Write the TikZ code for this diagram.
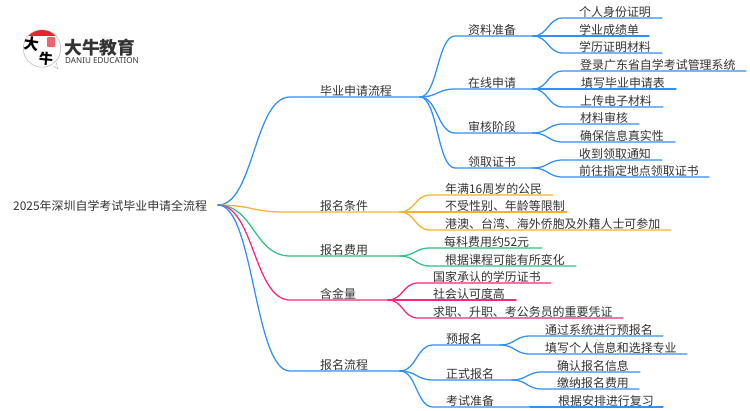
\documentclass[tikz,border=0pt]{standalone}
\usepackage{fontspec}
\setmainfont{Noto Sans CJK SC}
\newfontfamily\latinlogo{Noto Sans}
\usetikzlibrary{calc}
\definecolor{cblue}{HTML}{2F90F5}
\definecolor{corange}{HTML}{F6B22F}
\definecolor{cgreen}{HTML}{2CC47F}
\definecolor{cpink}{HTML}{F9267F}
\definecolor{ctext}{HTML}{333333}
\definecolor{cred}{HTML}{E5262A}
\tikzset{
  lab/.style={font=\fontsize{11.95}{12}\selectfont, text=ctext, inner sep=0pt, anchor=west},
  wire/.style={line width=1.25pt, line cap=round, line join=round},
}
% colour, name, parent, x start, x end, y of line, x of text, text
\newcommand{\twig}[8]{%
  \coordinate (#2-s) at (#4,#6);
  \coordinate (#2-e) at (#5,#6);
  \node[lab] (#2) at (#7,{#6-6}) {#8};
  \coordinate (#2-m) at ($(#3-e)!0.5!(#2-s)$);
  \draw[wire,#1] (#3-e) .. controls (#2-m |- #3-e) and (#2-m |- #2-s) .. (#2-s) -- (#2-e);
}
\begin{document}
\begin{tikzpicture}[x=1pt,y=-1pt]
\useasboundingbox (0,0) rectangle (750,410);
\fill[white] (0,0) rectangle (750,410);
% logo
\coordinate (logoc) at (42,48.5);
\draw[black!25,line width=0.5pt,fill=white] (53,66) -- (58,69) -- (56,62);
\draw[black!25,line width=0.6pt] (logoc) circle (18.7);
\begin{scope}
  \clip (23,29) rectangle (62,35.5);
  \fill[cred] (logoc) circle (18.5);
\end{scope}
\fill[cred!70,rounded corners=1pt] (47,37) rectangle (55,47);
\node[inner sep=0pt,rotate=-8] (logoa) at (32,43.5) {\fontsize{15}{15}\selectfont\bfseries 大};
\node[inner sep=0pt,rotate=-5] (logob) at (46,59) {\fontsize{14}{14}\selectfont\bfseries 牛};
\node[inner sep=0pt,anchor=west,text=ctext] (logot) at (64,47.5) {\fontsize{17.8}{18}\selectfont\bfseries 大牛教育};
\node[inner sep=0pt,anchor=west,text=ctext] (logos) at (65,60.5) {\fontsize{8.1}{9}\selectfont\latinlogo DANIU EDUCATION};
% root
\coordinate (root-e) at (218,205);
\node[lab] (root) at (13,205.5) {2025年深圳自学考试毕业申请全流程};
% branch 1
\twig{cblue}{a}{root}{290}{420}{97}{320}{毕业申请流程}
\twig{cblue}{a1}{a}{455}{533}{36}{468}{资料准备}
\twig{cblue}{a2}{a}{455}{533}{89}{468}{在线申请}
\twig{cblue}{a3}{a}{455}{533}{133}{468}{审核阶段}
\twig{cblue}{a4}{a}{455}{533}{168}{468}{领取证书}
\twig{cblue}{a11}{a1}{563}{662}{18}{579}{个人身份证明}
\twig{cblue}{a12}{a1}{563}{649}{36}{579}{学业成绩单}
\twig{cblue}{a13}{a1}{563}{662}{53}{579}{学历证明材料}
\twig{cblue}{a21}{a2}{563}{746}{71}{580}{登录广东省自学考试管理系统}
\twig{cblue}{a22}{a2}{563}{676}{89}{581}{填写毕业申请表}
\twig{cblue}{a23}{a2}{563}{663}{107}{580}{上传电子材料}
\twig{cblue}{a31}{a3}{563}{639}{124}{580}{材料审核}
\twig{cblue}{a32}{a3}{563}{675}{142}{580}{确保信息真实性}
\twig{cblue}{a41}{a4}{563}{662}{160}{579}{收到领取通知}
\twig{cblue}{a42}{a4}{563}{709}{177}{579}{前往指定地点领取证书}
% branch 2
\twig{corange}{b}{root}{285}{400}{212}{320}{报名条件}
\twig{corange}{b1}{b}{430}{553}{195}{445}{年满16周岁的公民}
\twig{corange}{b2}{b}{430}{567}{212}{445}{不受性别、年龄等限制}
\twig{corange}{b3}{b}{430}{671}{230}{445}{港澳、台湾、海外侨胞及外籍人士可参加}
% branch 3
\twig{cgreen}{c}{root}{290}{400}{256}{320}{报名费用}
\twig{cgreen}{c1}{c}{430}{542}{248}{444}{每科费用约52元}
\twig{cgreen}{c2}{c}{430}{576}{266}{445}{根据课程可能有所变化}
% branch 4
\twig{cpink}{d}{root}{290}{388}{300}{320}{含金量}
\twig{cpink}{d1}{d}{418}{551}{283}{433}{国家承认的学历证书}
\twig{cpink}{d2}{d}{418}{516}{300}{433}{社会认可度高}
\twig{cpink}{d3}{d}{418}{623}{318}{433}{求职、升职、考公务员的重要凭证}
% branch 5
\twig{cblue}{e}{root}{290}{400}{371}{320}{报名流程}
\twig{cblue}{e1}{e}{433}{500}{345}{446}{预报名}
\twig{cblue}{e2}{e}{433}{512}{380}{446}{正式报名}
\twig{cblue}{e3}{e}{433}{530}{407}{446}{考试准备}
\twig{cblue}{e11}{e1}{530}{663}{336}{545}{通过系统进行预报名}
\twig{cblue}{e12}{e1}{530}{687}{354}{545}{填写个人信息和选择专业}
\twig{cblue}{e21}{e2}{542}{640}{372}{557}{确认报名信息}
\twig{cblue}{e22}{e2}{542}{639}{389}{557}{缴纳报名费用}
\twig{cblue}{e31}{e3}{545}{663}{407}{558}{根据安排进行复习}
\end{tikzpicture}
\end{document}
